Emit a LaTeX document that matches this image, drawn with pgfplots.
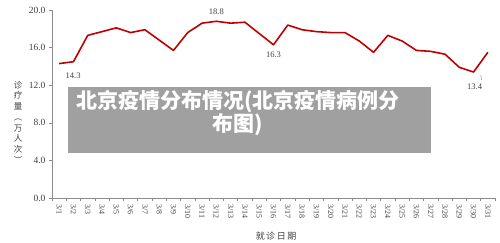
\documentclass[border=0pt]{standalone}
\usepackage{fontspec}
\setmainfont{Liberation Serif}
\newfontfamily\cjk{Noto Sans CJK SC}
\usepackage{pgfplots}
\pgfplotsset{compat=1.18}
\definecolor{linered}{HTML}{C00000}
\definecolor{axgray}{HTML}{8C8C8C}
\definecolor{boxgray}{HTML}{A0A0A0}
\definecolor{txtgray}{HTML}{404040}
\begin{document}
\begin{tikzpicture}[x=1pt,y=1pt]
\begin{axis}[
  at={(52pt,44pt)}, anchor=south west,
  scale only axis, width=443pt, height=188pt,
  xmin=-0.5, xmax=30.5, ymin=0, ymax=20,
  axis lines*=left,
  axis line style={axgray, line width=0.8pt},
  tick align=outside,
  major tick length=3pt, minor tick length=3pt,
  tick style={axgray, line width=0.6pt},
  ytick={0,4,8,12,16,20},
  /pgf/number format/fixed,
  /pgf/number format/fixed zerofill,
  /pgf/number format/precision=1,
  /pgf/number format/assume math mode=true,
  yticklabel style={font=\fontsize{9.5}{10}\selectfont, text=txtgray},
  xtick={0,...,30},
  xticklabels={3/1,3/2,3/3,3/4,3/5,3/6,3/7,3/8,3/9,3/10,3/11,3/12,3/13,3/14,3/15,3/16,3/17,3/18,3/19,3/20,3/21,3/22,3/23,3/24,3/25,3/26,3/27,3/28,3/29,3/30,3/31},
  every major x tick/.append style={draw=none},
  minor xtick={-0.5,0.5,...,30.5},
  xticklabel style={rotate=-90, anchor=west, font=\fontsize{8}{8}\selectfont, text=txtgray},
  clip=false,
]
\addplot[linered, line width=1.6pt, mark=none, line join=round] coordinates {
(0,14.3) (1,14.5) (2,17.3) (3,17.7) (4,18.1) (5,17.6) (6,17.9) (7,16.8) (8,15.7) (9,17.6)
(10,18.6) (11,18.8) (12,18.6) (13,18.7) (14,17.5) (15,16.3) (16,18.4) (17,17.9) (18,17.7) (19,17.6)
(20,17.6) (21,16.7) (22,15.5) (23,17.3) (24,16.7) (25,15.7) (26,15.6) (27,15.3) (28,13.9) (29,13.4)
(30,15.5)};
\node[font=\fontsize{8.5}{9}\selectfont, text=txtgray] at (axis cs:0,14.3) [xshift=14pt, yshift=-12.5pt] {14.3};
\node[font=\fontsize{8.5}{9}\selectfont, text=txtgray, above=3pt] at (axis cs:11,18.8) {18.8};
\node[font=\fontsize{8.5}{9}\selectfont, text=txtgray] at (axis cs:15,16.3) [yshift=-10pt] {16.3};
\draw[axgray, line width=0.5pt] (axis cs:29,13.4) ++(0,-3pt) -- ++(1pt,-5pt);
\node[font=\fontsize{8.5}{9}\selectfont, text=txtgray] at (axis cs:29,13.4) [xshift=1pt, yshift=-15pt] {13.4};
\end{axis}
\foreach \c [count=\i] in {诊,疗,量,︵,万,人,次,︶}
  \node[font=\cjk\fontsize{8.5}{10}\selectfont, text=txtgray, inner sep=0pt, anchor=base] at (18,{153.8-(\i-1)*10.7}) {\c};
\node[font=\cjk\fontsize{9}{10}\selectfont, text=txtgray, inner sep=0pt] at (276,6) {就\hspace{1.5pt}诊\hspace{1.5pt}日\hspace{1.5pt}期};
\fill[boxgray] (68,89) rectangle (431,155);
\node[font=\cjk\bfseries\fontsize{21}{20}\selectfont, text=white, align=center, inner sep=0pt] at (238,129) {北京疫情分布情况(北京疫情病例分\\布图)};
\pgfresetboundingbox
\path[use as bounding box] (0,0) rectangle (500,242);
\end{tikzpicture}
\end{document}
